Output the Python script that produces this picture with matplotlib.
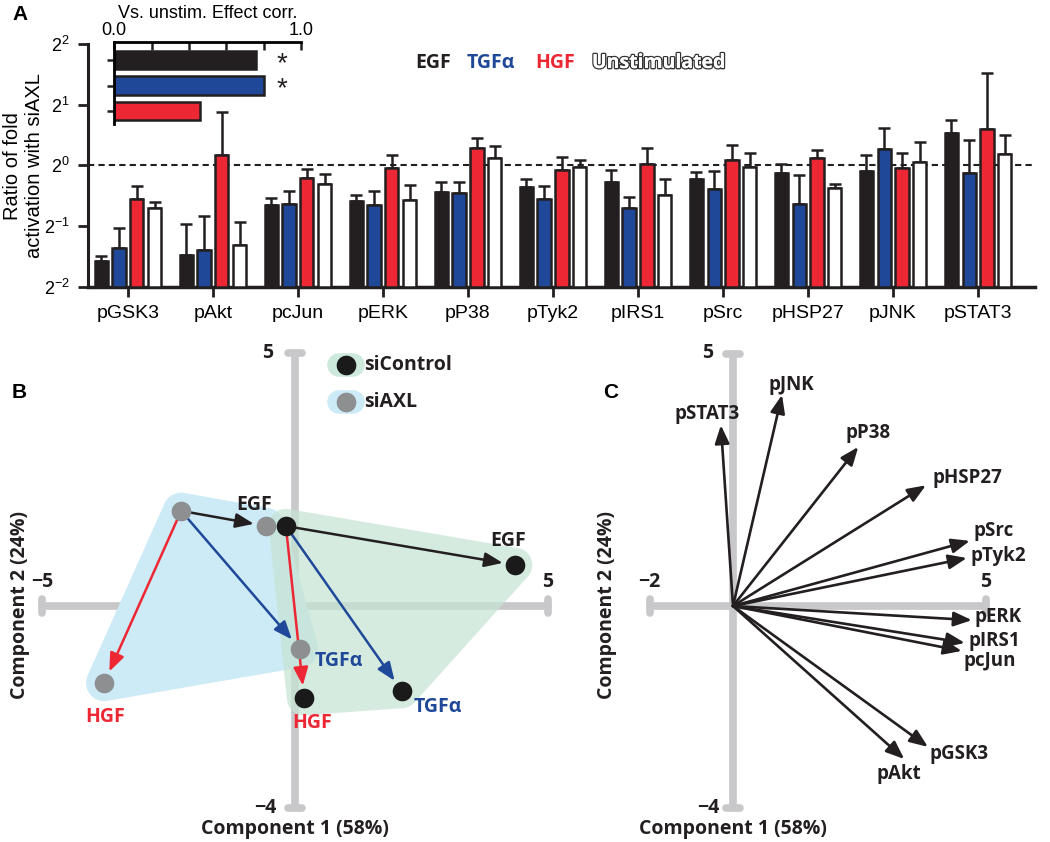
import numpy as np
import matplotlib
matplotlib.use('Agg')
import matplotlib.pyplot as plt
from matplotlib import patheffects
from matplotlib.patches import Polygon

# ---- panel A data (log2 ratio, upper error in log2 units)
proteins = ['pGSK3', 'pAkt', 'pcJun', 'pERK', 'pP38', 'pTyk2', 'pIRS1', 'pSrc', 'pHSP27', 'pJNK', 'pSTAT3']
egf = [-1.58, -1.47, -0.65, -0.58, -0.44, -0.35, -0.27, -0.22, -0.13, -0.09, 0.54]
egf_err = [0.08, 0.51, 0.11, 0.09, 0.17, 0.12, 0.20, 0.11, 0.15, 0.26, 0.20]
tgfa = [-1.37, -1.40, -0.63, -0.65, -0.45, -0.56, -0.71, -0.39, -0.63, 0.27, -0.13]
tgfa_err = [0.33, 0.56, 0.20, 0.22, 0.17, 0.22, 0.19, 0.29, 0.47, 0.35, 0.54]
hgf = [-0.56, 0.165, -0.21, -0.05, 0.285, -0.08, 0.03, 0.09, 0.115, -0.04, 0.60]
hgf_err = [0.22, 0.71, 0.15, 0.22, 0.17, 0.22, 0.26, 0.25, 0.14, 0.24, 0.92]
unstim = [-0.71, -1.31, -0.30, -0.57, 0.125, -0.02, -0.49, -0.02, -0.37, 0.06, 0.18]
unstim_err = [0.11, 0.37, 0.16, 0.24, 0.19, 0.11, 0.27, 0.23, 0.07, 0.32, 0.32]

# inset: effect correlation vs unstimulated
inset_corr = [0.76, 0.80, 0.46]
inset_sig = [True, True, False]

# ---- panel B data (PCA scores)
conditions = ['Unstim', 'EGF', 'TGFα', 'HGF']
siaxl_pc1 = [-2.25, -0.57, 0.10, -3.77]
siaxl_pc2 = [1.88, 1.58, -0.85, -1.52]
sictrl_pc1 = [-0.18, 4.35, 2.11, 0.18]
sictrl_pc2 = [1.58, 0.81, -1.68, -1.82]

# ---- panel C data (loadings)
load_names = ['pSTAT3', 'pJNK', 'pP38', 'pHSP27', 'pSrc', 'pTyk2', 'pERK', 'pIRS1', 'pcJun', 'pGSK3', 'pAkt']
load_pc1 = [-0.24, 0.97, 2.48, 3.82, 4.69, 4.63, 4.73, 4.59, 4.53, 3.86, 3.39]
load_pc2 = [3.58, 4.18, 3.15, 2.39, 1.29, 0.95, -0.28, -0.73, -0.89, -2.79, -3.03]

BLACK = '#231f20'
BLUE = '#1f4998'
RED = '#ed2733'
GREYAX = '#c8c8ca'
GREYDOT = '#8e8f91'
cond_colors = [BLACK, BLUE, RED, 'white']

plt.rcParams['font.family'] = ['Liberation Sans', 'DejaVu Sans']
bold = dict(family=['Open Sans', 'DejaVu Sans'], weight='bold')

fig = plt.figure(figsize=(10.5, 8.42), dpi=100)

# ================= A =================
ax = fig.add_axes([88/1050, 1-286.7/842, (1035-88)/1050, (286.7-44)/842])
x = np.arange(len(proteins))
series = [(egf, egf_err), (tgfa, tgfa_err), (hgf, hgf_err), (unstim, unstim_err)]
offsets = [-0.315, -0.105, 0.105, 0.315]
for (vals, errs), off, col in zip(series, offsets, cond_colors):
    v = np.array(vals)
    e = np.array(errs)
    top = 2.0**v
    ax.errorbar(x + off, top, yerr=[np.zeros_like(top), 2.0**(v+e) - top], fmt='none',
                ecolor=BLACK, elinewidth=1.8, capsize=4, capthick=1.8, zorder=2)
    ax.bar(x + off, top - 0.25, bottom=0.25, width=0.155, color=col,
           edgecolor=BLACK, linewidth=1.8, zorder=3)
ax.set_yscale('log', base=2)
ax.set_ylim(0.25, 4)
ax.set_xlim(-0.47, 10.67)
ax.axhline(1, color=BLACK, ls=(0, (3, 2)), lw=1.5, zorder=1)
ax.set_yticks([0.25, 0.5, 1, 2, 4])
ax.set_yticklabels([r'$\mathregular{2^{-2}}$', r'$\mathregular{2^{-1}}$', r'$\mathregular{2^{0}}$',
                    r'$\mathregular{2^{1}}$', r'$\mathregular{2^{2}}$'], fontsize=13)
ax.minorticks_off()
ax.set_xticks(x)
ax.set_xticklabels(proteins, fontsize=14)
for s in ['top', 'right']:
    ax.spines[s].set_visible(False)
ax.spines['left'].set_linewidth(2.2)
ax.spines['bottom'].set_linewidth(2.5)
ax.spines['left'].set_color(BLACK)
ax.spines['bottom'].set_color(BLACK)
ax.tick_params(axis='both', direction='out', length=7, width=2, color=BLACK, pad=6)
ax.patch.set_alpha(0)
fig.text(24/1050, 1-166/842, 'Ratio of fold\nactivation with siAXL', rotation=90,
         fontsize=14.5, ha='center', va='center', multialignment='center', linespacing=1.2)

# legend A
legend_x = [415, 467, 535, 592]
legend_txt = ['EGF', 'TGFα', 'HGF', 'Unstimulated']
for lx, t, c in zip(legend_x, legend_txt, cond_colors):
    tx = fig.text(lx/1050, 1-63/842, t, color=c, fontsize=14, va='center', ha='left', **bold)
    if c == 'white':
        tx.set_path_effects([patheffects.withStroke(linewidth=2, foreground='#333333'),
                             patheffects.Normal()])

# inset
axi = fig.add_axes([114.3/1050, 1-124/842, (301-114.3)/1050, (124-42)/842])
yi = np.arange(len(inset_corr))
axi.barh(yi, inset_corr, height=0.72, color=cond_colors[:3], edgecolor=BLACK, linewidth=1.8)
for yy, v, sig in zip(yi, inset_corr, inset_sig):
    if sig:
        axi.text(0.9, yy + 0.15, '*', fontsize=20, ha='center', va='center', color=BLACK)
axi.set_xlim(0, 1)
axi.set_ylim(2.5, -0.7)
axi.xaxis.tick_top()
axi.xaxis.set_label_position('top')
axi.set_xticks([0, 0.2, 0.4, 0.6, 0.8, 1.0])
axi.set_xticklabels(['0.0', '', '', '', '', '1.0'], fontsize=13)
axi.set_yticks(yi)
axi.set_yticklabels([])
axi.tick_params(axis='x', direction='in', length=6, width=1.8, pad=2, color=BLACK)
axi.tick_params(axis='y', direction='out', length=5, width=1.8, color=BLACK)
axi.set_xlabel('Vs. unstim. Effect corr.', fontsize=13, labelpad=3)
for s in ['bottom', 'right']:
    axi.spines[s].set_visible(False)
axi.spines['top'].set_linewidth(2)
axi.spines['left'].set_linewidth(2)
axi.patch.set_alpha(0)

fig.text(12/1050, 1-15/842, 'A', fontsize=15, weight='bold', va='center', ha='left')
fig.text(12/1050, 1-393/842, 'B', fontsize=15, weight='bold', va='center', ha='left')
fig.text(603/1050, 1-393/842, 'C', fontsize=15, weight='bold', va='center', ha='left')


def padded_hull(xs, ys, r):
    t = np.linspace(0, 2*np.pi, 48, endpoint=False)
    pts = sorted({(round(px + r*np.cos(a), 6), round(py + r*np.sin(a), 6))
                  for px, py in zip(xs, ys) for a in t})

    def cross(o, a, b):
        return (a[0]-o[0])*(b[1]-o[1]) - (a[1]-o[1])*(b[0]-o[0])
    lower, upper = [], []
    for p in pts:
        while len(lower) >= 2 and cross(lower[-2], lower[-1], p) <= 0:
            lower.pop()
        lower.append(p)
    for p in reversed(pts):
        while len(upper) >= 2 and cross(upper[-2], upper[-1], p) <= 0:
            upper.pop()
        upper.append(p)
    return lower[:-1] + upper[:-1]


def draw_cross_axes(ax, xmin, xmax, ymin, ymax, cap):
    kw = dict(color=GREYAX, lw=5.5, solid_capstyle='round', zorder=0)
    ax.plot([xmin, xmax], [0, 0], **kw)
    ax.plot([0, 0], [ymin, ymax], **kw)
    for xx in (xmin, xmax):
        ax.plot([xx, xx], [-cap, cap], **kw)
    for yy in (ymin, ymax):
        ax.plot([-cap, cap], [yy, yy], **kw)


# ================= B =================
sc = 50.6
axb = fig.add_axes([0, 0, 600/1050, 512/842])
axb.set_xlim((0-295)/sc, (600-295)/sc)
axb.set_ylim((606-842)/sc, (606-330)/sc)
axb.axis('off')
draw_cross_axes(axb, -5, 5, -4, 5, 0.14)

axb.add_patch(Polygon(padded_hull(siaxl_pc1, siaxl_pc2, 0.36), closed=True,
                      fc='#cdeaf7', ec='none', zorder=1))
axb.add_patch(Polygon(padded_hull(sictrl_pc1, sictrl_pc2, 0.34), closed=True,
                      fc=(0.775, 0.896, 0.828), alpha=0.72, ec='none', zorder=1))

arrow_cols = [BLACK, BLUE, RED]
for pc1, pc2 in [(siaxl_pc1, siaxl_pc2), (sictrl_pc1, sictrl_pc2)]:
    for i in range(1, 4):
        axb.annotate('', xy=(pc1[i], pc2[i]), xytext=(pc1[0], pc2[0]),
                     arrowprops=dict(arrowstyle='-|>,head_length=0.55,head_width=0.22',
                                     color=arrow_cols[i-1], lw=1.8, shrinkA=0, shrinkB=9,
                                     mutation_scale=20), zorder=3)
axb.scatter(siaxl_pc1, siaxl_pc2, s=200, color=GREYDOT, zorder=4, linewidths=0)
axb.scatter(sictrl_pc1, sictrl_pc2, s=200, color='#1a1a1a', zorder=4, linewidths=0)

lab_cols = {'EGF': BLACK, 'TGFα': BLUE, 'HGF': RED}
siaxl_off = {'EGF': (-12, 21), 'TGFα': (39, -12), 'HGF': (1, -34)}
sictrl_off = {'EGF': (-7, 24), 'TGFα': (36, -16), 'HGF': (8, -25)}
for pc1, pc2, offs in [(siaxl_pc1, siaxl_pc2, siaxl_off), (sictrl_pc1, sictrl_pc2, sictrl_off)]:
    for i in range(1, 4):
        name = conditions[i]
        axb.annotate(name, (pc1[i], pc2[i]), xytext=offs[name], textcoords='offset pixels',
                     ha='center', va='center', color=lab_cols[name], fontsize=14, zorder=5, **bold)

# legend B
for yy, pill, dot, name in [((606-365)/sc, '#cde9dc', '#1a1a1a', 'siControl'),
                            ((606-402)/sc, '#cdeaf7', GREYDOT, 'siAXL')]:
    xc = (346-295)/sc
    axb.plot([xc-0.14, xc+0.14], [yy, yy], color=pill, lw=17, solid_capstyle='round', zorder=2)
    axb.scatter([xc], [yy], s=200, color=dot, zorder=3, linewidths=0)
    axb.text((364-295)/sc, yy, name, fontsize=14, va='center', ha='left', color=BLACK, **bold)

tk = dict(fontsize=14, ha='center', va='center', color=BLACK, **bold)
axb.text(-5, 24/sc, '−5', **tk)
axb.text(5, 24/sc, '5', **tk)
axb.text(-27/sc, 5, '5', **tk)
axb.text(-30/sc, -4, '−4', **tk)
axb.text(0, (606-829)/sc, 'Component 1 (58%)', clip_on=False, **tk)
axb.text((20-295)/sc, (606-605)/sc, 'Component 2 (24%)', rotation=90, clip_on=False, **tk)

# ================= C =================
scc = 50.5
axc = fig.add_axes([600/1050, 0, 450/1050, 512/842])
axc.set_xlim((600-733)/scc, (1050-733)/scc)
axc.set_ylim((606-842)/scc, (606-330)/scc)
axc.axis('off')
draw_cross_axes(axc, -1.65, 5, -4, 5, 0.14)

load_off = {'pSTAT3': (-14, 11), 'pJNK': (9, 10), 'pP38': (10, 14), 'pHSP27': (42, 7),
            'pSrc': (24, 10), 'pTyk2': (31, 2), 'pERK': (26, 3), 'pIRS1': (30, 2),
            'pcJun': (28, -10), 'pGSK3': (31, -7), 'pAkt': (-5, -15)}
for name, l1, l2 in zip(load_names, load_pc1, load_pc2):
    axc.annotate('', xy=(l1, l2), xytext=(0, 0),
                 arrowprops=dict(arrowstyle='-|>,head_length=0.55,head_width=0.22',
                                 color=BLACK, lw=1.9, shrinkA=0, shrinkB=0,
                                 mutation_scale=20), zorder=3)
    axc.annotate(name, (l1, l2), xytext=load_off[name], textcoords='offset pixels',
                 ha='center', va='center', color=BLACK, fontsize=13.5, zorder=5, **bold)

axc.text(-1.65, 24/scc, '−2', **tk)
axc.text(5, 24/scc, '5', **tk)
axc.text(-25/scc, 5, '5', **tk)
axc.text(-25/scc, -4, '−4', **tk)
axc.text(0, (606-829)/scc, 'Component 1 (58%)', clip_on=False, **tk)
axc.text((607-733)/scc, (606-605)/scc, 'Component 2 (24%)', rotation=90, clip_on=False, **tk)

fig.savefig('out.png', dpi=100)
